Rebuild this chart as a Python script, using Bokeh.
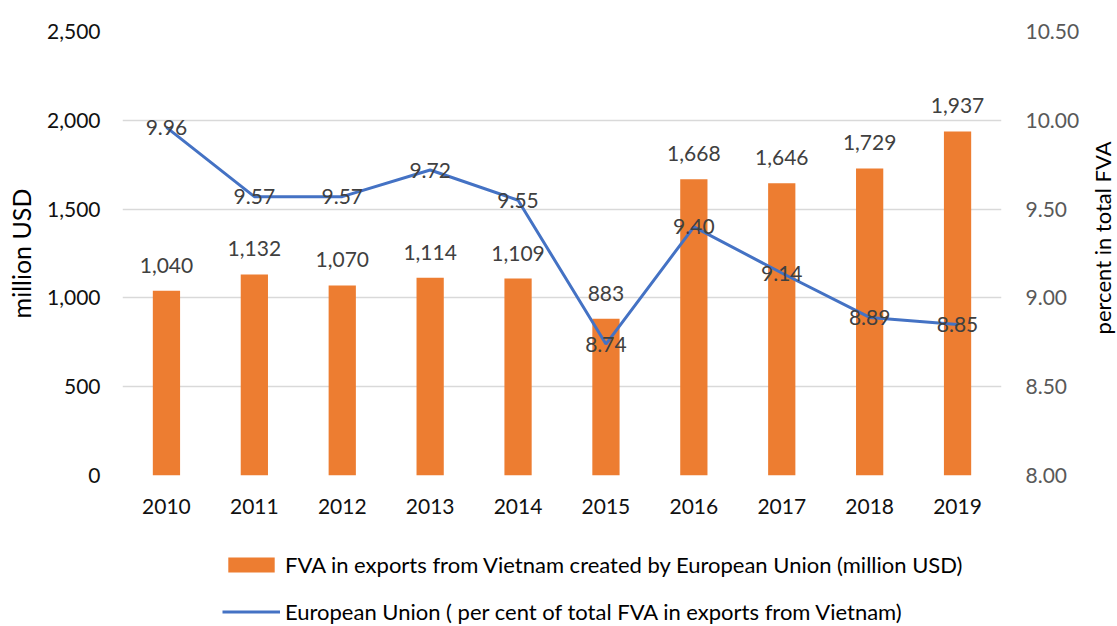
import math
from bokeh.plotting import figure
from bokeh.layouts import column, row
from bokeh.models import (ColumnDataSource, FactorRange, Range1d, LinearAxis, FixedTicker,
                          NumeralTickFormatter, LabelSet, Legend, LegendItem, Label)
from bokeh.core.properties import value
from bokeh.embed import file_html
from bokeh.resources import INLINE

years = ["2010", "2011", "2012", "2013", "2014", "2015", "2016", "2017", "2018", "2019"]
fva_million = [1040, 1132, 1070, 1114, 1109, 883, 1668, 1646, 1729, 1937]
eu_percent = [9.96, 9.57, 9.57, 9.72, 9.55, 8.74, 9.40, 9.14, 8.89, 8.85]
left_ticks = [0, 500, 1000, 1500, 2000, 2500]
right_ticks = [8.0, 8.5, 9.0, 9.5, 10.0, 10.5]

bar_label = "FVA in exports from Vietnam created by European Union (million USD)"
line_label = "European Union ( per cent of total FVA in exports from Vietnam)"
left_title = "million USD"
right_title = "percent in total FVA"

FONT = "Lato"
ORANGE = "#ED7D31"
BLUE = "#4472C4"

MAIN_W, RLAB_W = 1083, 34
MAIN_H, LEG_H = 540, 86

src = ColumnDataSource(dict(
    x=years, v=fva_million, p=eu_percent,
    vt=[f"{v:,}" for v in fva_million],
    pt=[f"{v:.2f}" for v in eu_percent],
))

p = figure(width=MAIN_W, height=MAIN_H, x_range=FactorRange(*years, range_padding=0),
           y_range=Range1d(0, 2500), output_backend="svg", toolbar_location=None,
           min_border_left=122, min_border_right=82, min_border_top=31, min_border_bottom=65)
p.outline_line_color = None
p.extra_y_ranges = {"pct": Range1d(8.0, 10.5)}

bars = p.vbar(x="x", top="v", width=0.31, source=src, fill_color=ORANGE, line_color=None)
line = p.line(x="x", y="p", source=src, y_range_name="pct", line_color=BLUE, line_width=3)


def style_axis(ax, color, standoff):
    ax.axis_line_color = None
    ax.major_tick_line_color = None
    ax.minor_tick_line_color = None
    ax.major_tick_out = 0
    ax.major_tick_in = 0
    ax.minor_tick_out = 0
    ax.minor_tick_in = 0
    ax.major_label_text_font = FONT
    ax.major_label_text_font_size = "21px"
    ax.major_label_text_color = color
    ax.major_label_standoff = standoff
    ax.axis_label_text_font = FONT
    ax.axis_label_text_font_size = "25px"
    ax.axis_label_text_font_style = "normal"
    ax.axis_label_text_color = "#000000"


p.yaxis.ticker = FixedTicker(ticks=left_ticks)
p.yaxis.formatter = NumeralTickFormatter(format="0,0")
p.yaxis.axis_label = left_title
style_axis(p.yaxis[0], "#111111", 22)
p.yaxis[0].axis_label_standoff = 8

rax = LinearAxis(y_range_name="pct", ticker=FixedTicker(ticks=right_ticks),
                 formatter=NumeralTickFormatter(format="0.00"))
style_axis(rax, "#595959", 24)
p.add_layout(rax, "right")

style_axis(p.xaxis[0], "#111111", 23)

p.xgrid.grid_line_color = None
p.ygrid.grid_line_color = "#D9D9D9"
p.ygrid.grid_line_width = 1.5

bl = LabelSet(x="x", y="v", text="vt", source=src, text_align="center", text_baseline="bottom",
              y_offset=18, text_font=value(FONT), text_font_size="21px", text_color="#404040")
ll = LabelSet(x="x", y="p", text="pt", source=src, y_range_name="pct", text_align="center",
              text_baseline="middle", y_offset=0, text_font=value(FONT), text_font_size="21px",
              text_color="#404040")
p.add_layout(bl)
p.add_layout(ll)

# right-hand axis title, reading bottom to top
r = figure(width=RLAB_W, height=MAIN_H, x_range=Range1d(0, RLAB_W), y_range=Range1d(0, MAIN_H),
           output_backend="svg", toolbar_location=None, x_axis_location=None, y_axis_location=None,
           min_border=0)
r.outline_line_color = None
r.grid.visible = False
r.add_layout(Label(x=19, y=MAIN_H - 251, text=right_title, angle=math.pi / 2,
                   text_align="center", text_baseline="middle", text_font=FONT,
                   text_font_size="22px", text_color="#000000"))

# legend panel below the chart: its renderers have no size and sit outside its ranges,
# so only the legend swatches show
lg = figure(width=MAIN_W + RLAB_W, height=LEG_H, x_range=FactorRange(*years),
            y_range=Range1d(-20000, -10000), output_backend="svg", toolbar_location=None,
            x_axis_location=None, y_axis_location=None, min_border=0)
lg.extra_y_ranges = {"pct": Range1d(-200, -100)}
lg.outline_line_color = None
lg.grid.visible = False
lbars = lg.vbar(x="x", top="v", bottom="v", width=0, source=src,
                fill_color=ORANGE, line_color=None)
lline = lg.line(x="x", y="p", source=src, y_range_name="pct", line_color=BLUE, line_width=3)
legend = Legend(items=[LegendItem(label=bar_label, renderers=[lbars]),
                       LegendItem(label=line_label, renderers=[lline])],
                location=(222, 1), orientation="vertical", padding=0, margin=0,
                spacing=20, glyph_width=58, glyph_height=19, label_height=22,
                label_standoff=5, border_line_color=None, background_fill_alpha=0,
                label_text_font=FONT, label_text_font_size="22px", label_text_color="#000000")
lg.add_layout(legend, "center")

layout = column(row(p, r, spacing=0), lg, spacing=0)
open("out.html", "w").write(file_html(layout, INLINE))
